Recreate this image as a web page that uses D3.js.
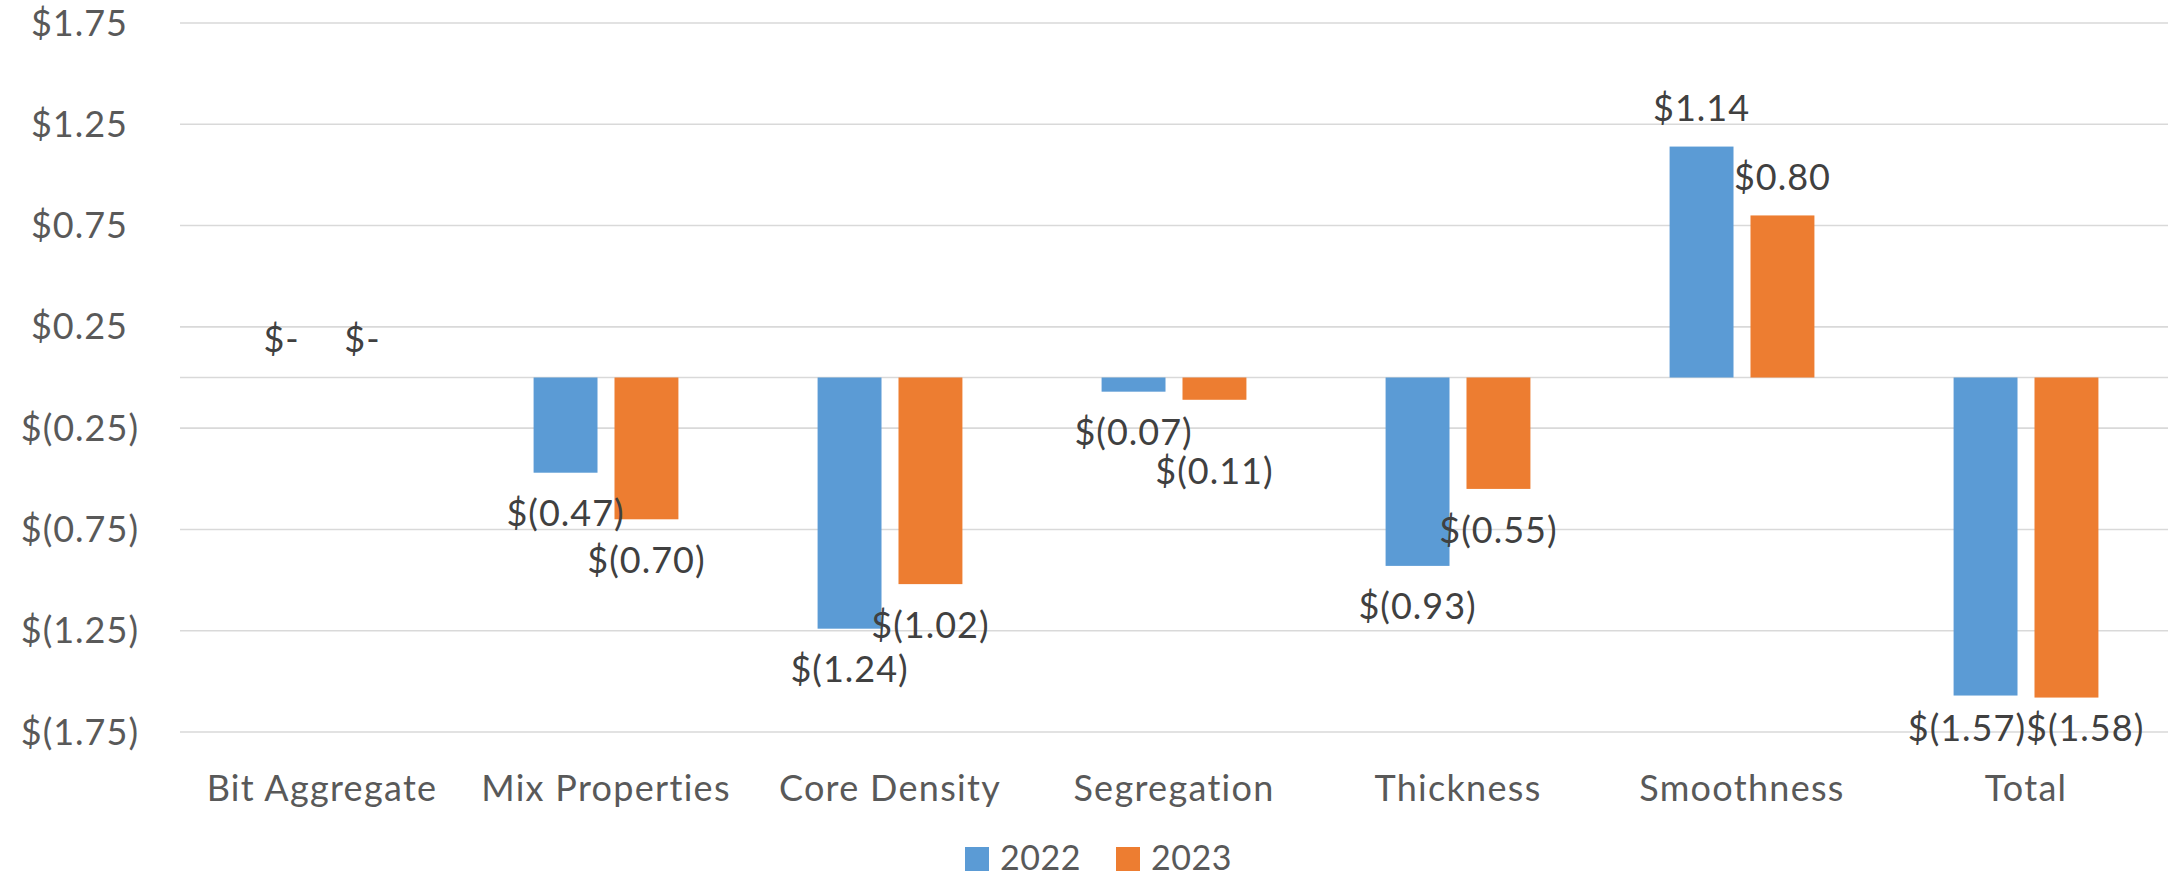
<!DOCTYPE html>
<html>
<head>
<meta charset="utf-8">
<script src="https://cdn.jsdelivr.net/npm/d3@7"></script>
<style>
  body { margin: 0; background: #fff; }
  text { font-family: Lato, "Open Sans", sans-serif; }
</style>
</head>
<body>
<svg></svg>
<script>
let categories = ['Bit Aggregate', 'Mix Properties', 'Core Density', 'Segregation', 'Thickness', 'Smoothness', 'Total'];
let years = ['2022', '2023'];
let values2022 = [0, -0.47, -1.24, -0.07, -0.93, 1.14, -1.57];
let values2023 = [0, -0.70, -1.02, -0.11, -0.55, 0.80, -1.58];
let yTicks = [-1.75, -1.25, -0.75, -0.25, 0.25, 0.75, 1.25, 1.75];

let width = 2177;
let height = 880;
let colors = { '2022': '#5b9bd5', '2023': '#ed7d31' };

// excel accounting style
let money = v => v === 0 ? '$-' : v < 0 ? `$(${Math.abs(v).toFixed(2)})` : `$${v.toFixed(2)}`;

let rows = [];
categories.forEach((c, i) => {
    rows.push({ cat: c, year: '2022', value: values2022[i] });
    rows.push({ cat: c, year: '2023', value: values2023[i] });
});

let svg = d3.select('svg')
    .attr('width', width)
    .attr('height', height);

let x0 = d3.scaleBand()
    .domain(categories)
    .range([180, 2168]);

let x1 = d3.scaleBand()
    .domain(years)
    .range([0, x0.bandwidth()])
    .paddingInner(0.21)
    .paddingOuter(0.86);

let y = d3.scaleLinear()
    .domain([-1.75, 1.75])
    .range([732, 23]);

// gridlines
svg.append('g')
    .selectAll('line')
    .data(yTicks.concat([0]))
    .enter()
    .append('line')
        .attr('x1', 180)
        .attr('x2', 2168)
        .attr('y1', d => y(d))
        .attr('y2', d => y(d))
        .attr('stroke', '#d9d9d9')
        .attr('stroke-width', 1.6);

// y axis labels, positives leave room for the paren like excel does
svg.append('g')
    .selectAll('text')
    .data(yTicks)
    .enter()
    .append('text')
        .attr('x', d => d < 0 ? 139 : 128)
        .attr('y', d => y(d))
        .attr('dy', '0.35em')
        .attr('text-anchor', 'end')
        .attr('fill', '#595959')
        .style('font-size', '36px')
        .style('letter-spacing', '1px')
        .text(money);

// bars
svg.append('g')
    .selectAll('rect')
    .data(rows)
    .enter()
    .append('rect')
        .attr('x', d => x0(d.cat) + x1(d.year))
        .attr('width', x1.bandwidth())
        .attr('y', d => y(Math.max(0, d.value)))
        .attr('height', d => Math.abs(y(d.value) - y(0)))
        .attr('fill', d => colors[d.year]);

// data labels
let labelNudge = { 'Segregation|2023': 31 };
let labelFloor = y(-1.75) - 4;

rows.forEach(d => {
    d.lx = x0(d.cat) + x1(d.year) + x1.bandwidth() / 2;
    let cy = d.value < 0 ? y(d.value) + 41 : y(d.value) - 38;
    cy += labelNudge[d.cat + '|' + d.year] || 0;
    d.ly = Math.min(cy, labelFloor);
});

let labels = svg.append('g')
    .selectAll('text')
    .data(rows)
    .enter()
    .append('text')
        .attr('x', d => d.lx)
        .attr('y', d => d.ly)
        .attr('dy', '0.35em')
        .attr('text-anchor', 'middle')
        .attr('fill', '#404040')
        .style('font-size', '36px')
        .style('letter-spacing', '1px')
        .text(d => money(d.value));

// push apart the pair of labels in a category when they sit on the same line
labels.each(function(d) { d.w = this.getComputedTextLength(); });
categories.forEach(c => {
    let pair = rows.filter(r => r.cat === c);
    let a = pair[0], b = pair[1];
    if (Math.abs(a.ly - b.ly) > 30) return;
    let overlap = (a.lx + a.w / 2) - (b.lx - b.w / 2);
    if (overlap > 0) {
        a.lx -= overlap / 2;
        b.lx += overlap / 2;
    }
});
labels.attr('x', d => d.lx);

// category labels
svg.append('g')
    .selectAll('text')
    .data(categories)
    .enter()
    .append('text')
        .attr('x', d => x0(d) + x0.bandwidth() / 2)
        .attr('y', 788)
        .attr('dy', '0.35em')
        .attr('text-anchor', 'middle')
        .attr('fill', '#595959')
        .style('font-size', '36px')
        .style('letter-spacing', '1.3px')
        .text(d => d);

// legend
let legend = svg.append('g')
    .selectAll('g')
    .data(years)
    .enter()
    .append('g')
        .attr('transform', (d, i) => `translate(${965 + i * 151} 858)`);

legend.append('rect')
    .attr('x', 0)
    .attr('y', -11)
    .attr('width', 24)
    .attr('height', 24)
    .attr('fill', d => colors[d]);

legend.append('text')
    .attr('x', 35)
    .attr('dy', '0.35em')
    .attr('fill', '#595959')
    .style('font-size', '34px')
    .style('letter-spacing', '0.5px')
    .text(d => d);
</script>
</body>
</html>
